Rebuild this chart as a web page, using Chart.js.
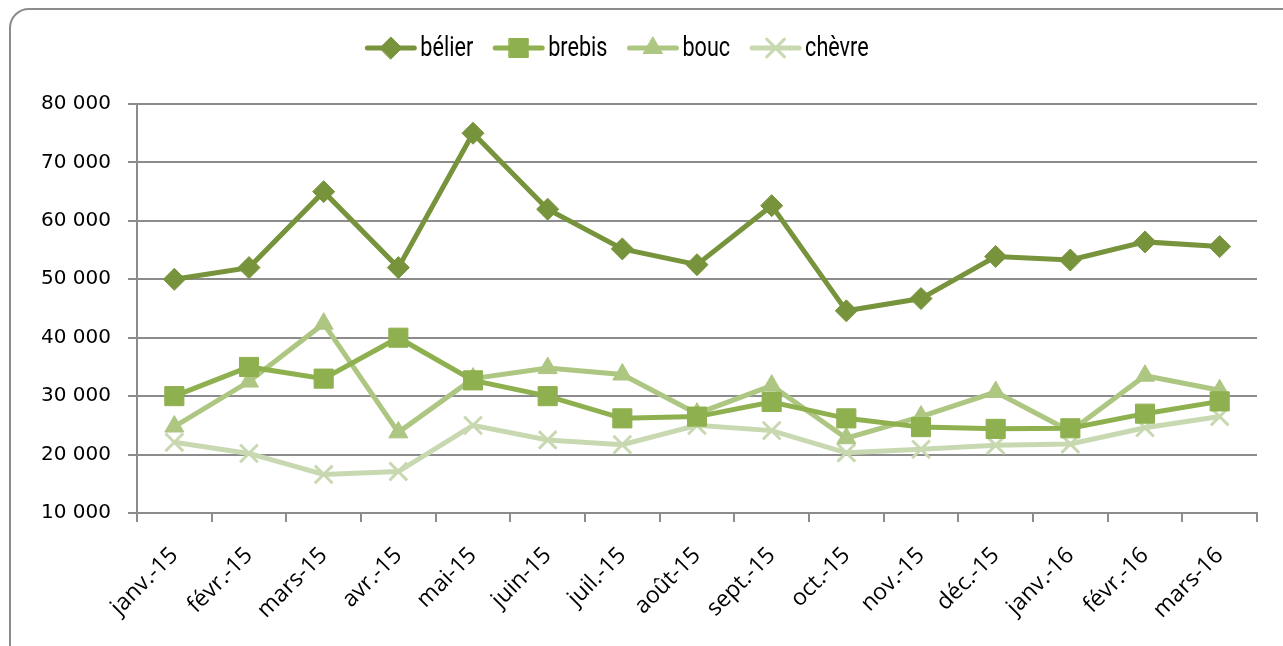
<!DOCTYPE html>
<html lang="fr">
<head>
<meta charset="utf-8">
<title>Graphique</title>
<style>
  html, body { margin: 0; padding: 0; background: #fff; overflow: hidden; }
  #cadre {
    position: absolute; left: 9px; top: 8px; width: 1300px; height: 670px;
    border: 2px solid #8c8c8c; border-radius: 20px; box-sizing: border-box;
  }
  #wrap { position: absolute; left: 0; top: 0; width: 1283px; height: 646px; }
</style>
</head>
<body>
<div id="cadre"></div>
<div id="wrap"><canvas id="myLineChart"></canvas></div>
<script src="https://cdn.jsdelivr.net/npm/chart.js@4/dist/chart.umd.min.js"></script>
<script>
  var mois = ['janv.-15', 'févr.-15', 'mars-15', 'avr.-15', 'mai-15', 'juin-15', 'juil.-15', 'août-15',
              'sept.-15', 'oct.-15', 'nov.-15', 'déc.-15', 'janv.-16', 'févr.-16', 'mars-16'];

  var belier = [50000, 52000, 65000, 52000, 75000, 62000, 55200, 52500, 62600, 44600, 46700, 53900, 53300, 56400, 55600];
  var brebis = [30000, 35000, 33000, 40000, 32700, 30000, 26200, 26500, 29000, 26200, 24700, 24400, 24500, 27000, 29100];
  var bouc   = [24800, 32500, 42400, 23800, 33000, 34800, 33700, 27000, 31800, 22800, 26500, 30700, 24000, 33500, 31000];
  var chevre = [22100, 20200, 16600, 17100, 25000, 22500, 21700, 25000, 24100, 20300, 20900, 21600, 21800, 24600, 26500];

  var yMin = 10000, yMax = 80000, yStep = 10000;

  function serie(label, data, color, style, radius, bw) {
    return {
      label: label, data: data,
      borderColor: color, backgroundColor: color,
      pointBackgroundColor: color, pointBorderColor: color,
      borderWidth: 5, pointStyle: style, pointRadius: radius, pointHoverRadius: radius,
      pointBorderWidth: bw, tension: 0, fill: false
    };
  }

  // legende facon Excel : trait + marqueur, texte un peu condense
  var legendeExcel = {
    id: 'legendeExcel',
    afterDraw: function (chart) {
      var ctx = chart.ctx;
      var sets = chart.data.datasets;
      var lineLen = 47, gapTxt = 6, gapItem = 22, serre = 0.8;
      ctx.save();
      ctx.font = '27px Roboto';
      var total = 0;
      sets.forEach(function (ds, i) {
        total += lineLen + gapTxt + ctx.measureText(ds.label).width * serre + (i < sets.length - 1 ? gapItem : 0);
      });
      var x = 618 - total / 2, y = 48;
      sets.forEach(function (ds) {
        ctx.strokeStyle = ds.borderColor;
        ctx.fillStyle = ds.borderColor;
        ctx.lineWidth = 5;
        ctx.lineCap = 'round';
        ctx.beginPath();
        ctx.moveTo(x, y); ctx.lineTo(x + lineLen, y);
        ctx.stroke();
        ctx.lineWidth = ds.pointBorderWidth;
        Chart.helpers.drawPoint(ctx, {
          pointStyle: ds.pointStyle, radius: ds.pointRadius, rotation: 0, borderWidth: ds.pointBorderWidth
        }, x + lineLen / 2, y);
        ctx.fillStyle = '#000';
        ctx.textBaseline = 'middle';
        ctx.textAlign = 'left';
        ctx.save();
        ctx.translate(x + lineLen + gapTxt, y + 1);
        ctx.scale(serre, 1);
        ctx.fillText(ds.label, 0, 0);
        ctx.restore();
        x += lineLen + gapTxt + ctx.measureText(ds.label).width * serre + gapItem;
      });
      ctx.restore();
    }
  };

  var ctx = document.getElementById('myLineChart');
  var myLineChart = new Chart(ctx, {
    type: 'line',
    data: {
      labels: mois,
      datasets: [
        serie('bélier', belier, '#77933c', 'rectRot', 11, 1),
        serie('brebis', brebis, '#8eb04f', 'rect', 13.5, 1),
        serie('bouc', bouc, '#adc682', 'triangle', 11, 1),
        serie('chèvre', chevre, '#c8d9b2', 'crossRot', 12.5, 3)
      ]
    },
    options: {
      responsive: true,
      maintainAspectRatio: false,
      animation: false,
      layout: { padding: { top: 104, right: 26, left: 0, bottom: 0 } },
      plugins: { legend: { display: false }, tooltip: { enabled: false } },
      scales: {
        x: {
          offset: true,
          grid: { display: true, drawOnChartArea: false, offset: true, tickLength: 9, color: '#8c8c8c', lineWidth: 2 },
          border: { color: '#8c8c8c', width: 2 },
          ticks: {
            color: '#000', font: { family: '"Open Sans"', size: 23 },
            minRotation: 45, maxRotation: 45, padding: 20, autoSkip: false
          },
          afterFit: function (s) { s.height = 133; }
        },
        y: {
          min: yMin, max: yMax,
          grid: { color: '#8c8c8c', lineWidth: 2, tickLength: 9 },
          border: { color: '#8c8c8c', width: 2 },
          ticks: {
            stepSize: yStep, color: '#000', padding: 17,
            font: { family: '"DejaVu Sans"', size: 20 },
            callback: function (v) { return String(v).replace(/\B(?=(\d{3})+(?!\d))/g, ' '); }
          },
          afterFit: function (s) { s.width = 137; }
        }
      }
    },
    plugins: [legendeExcel]
  });
</script>
</body>
</html>
